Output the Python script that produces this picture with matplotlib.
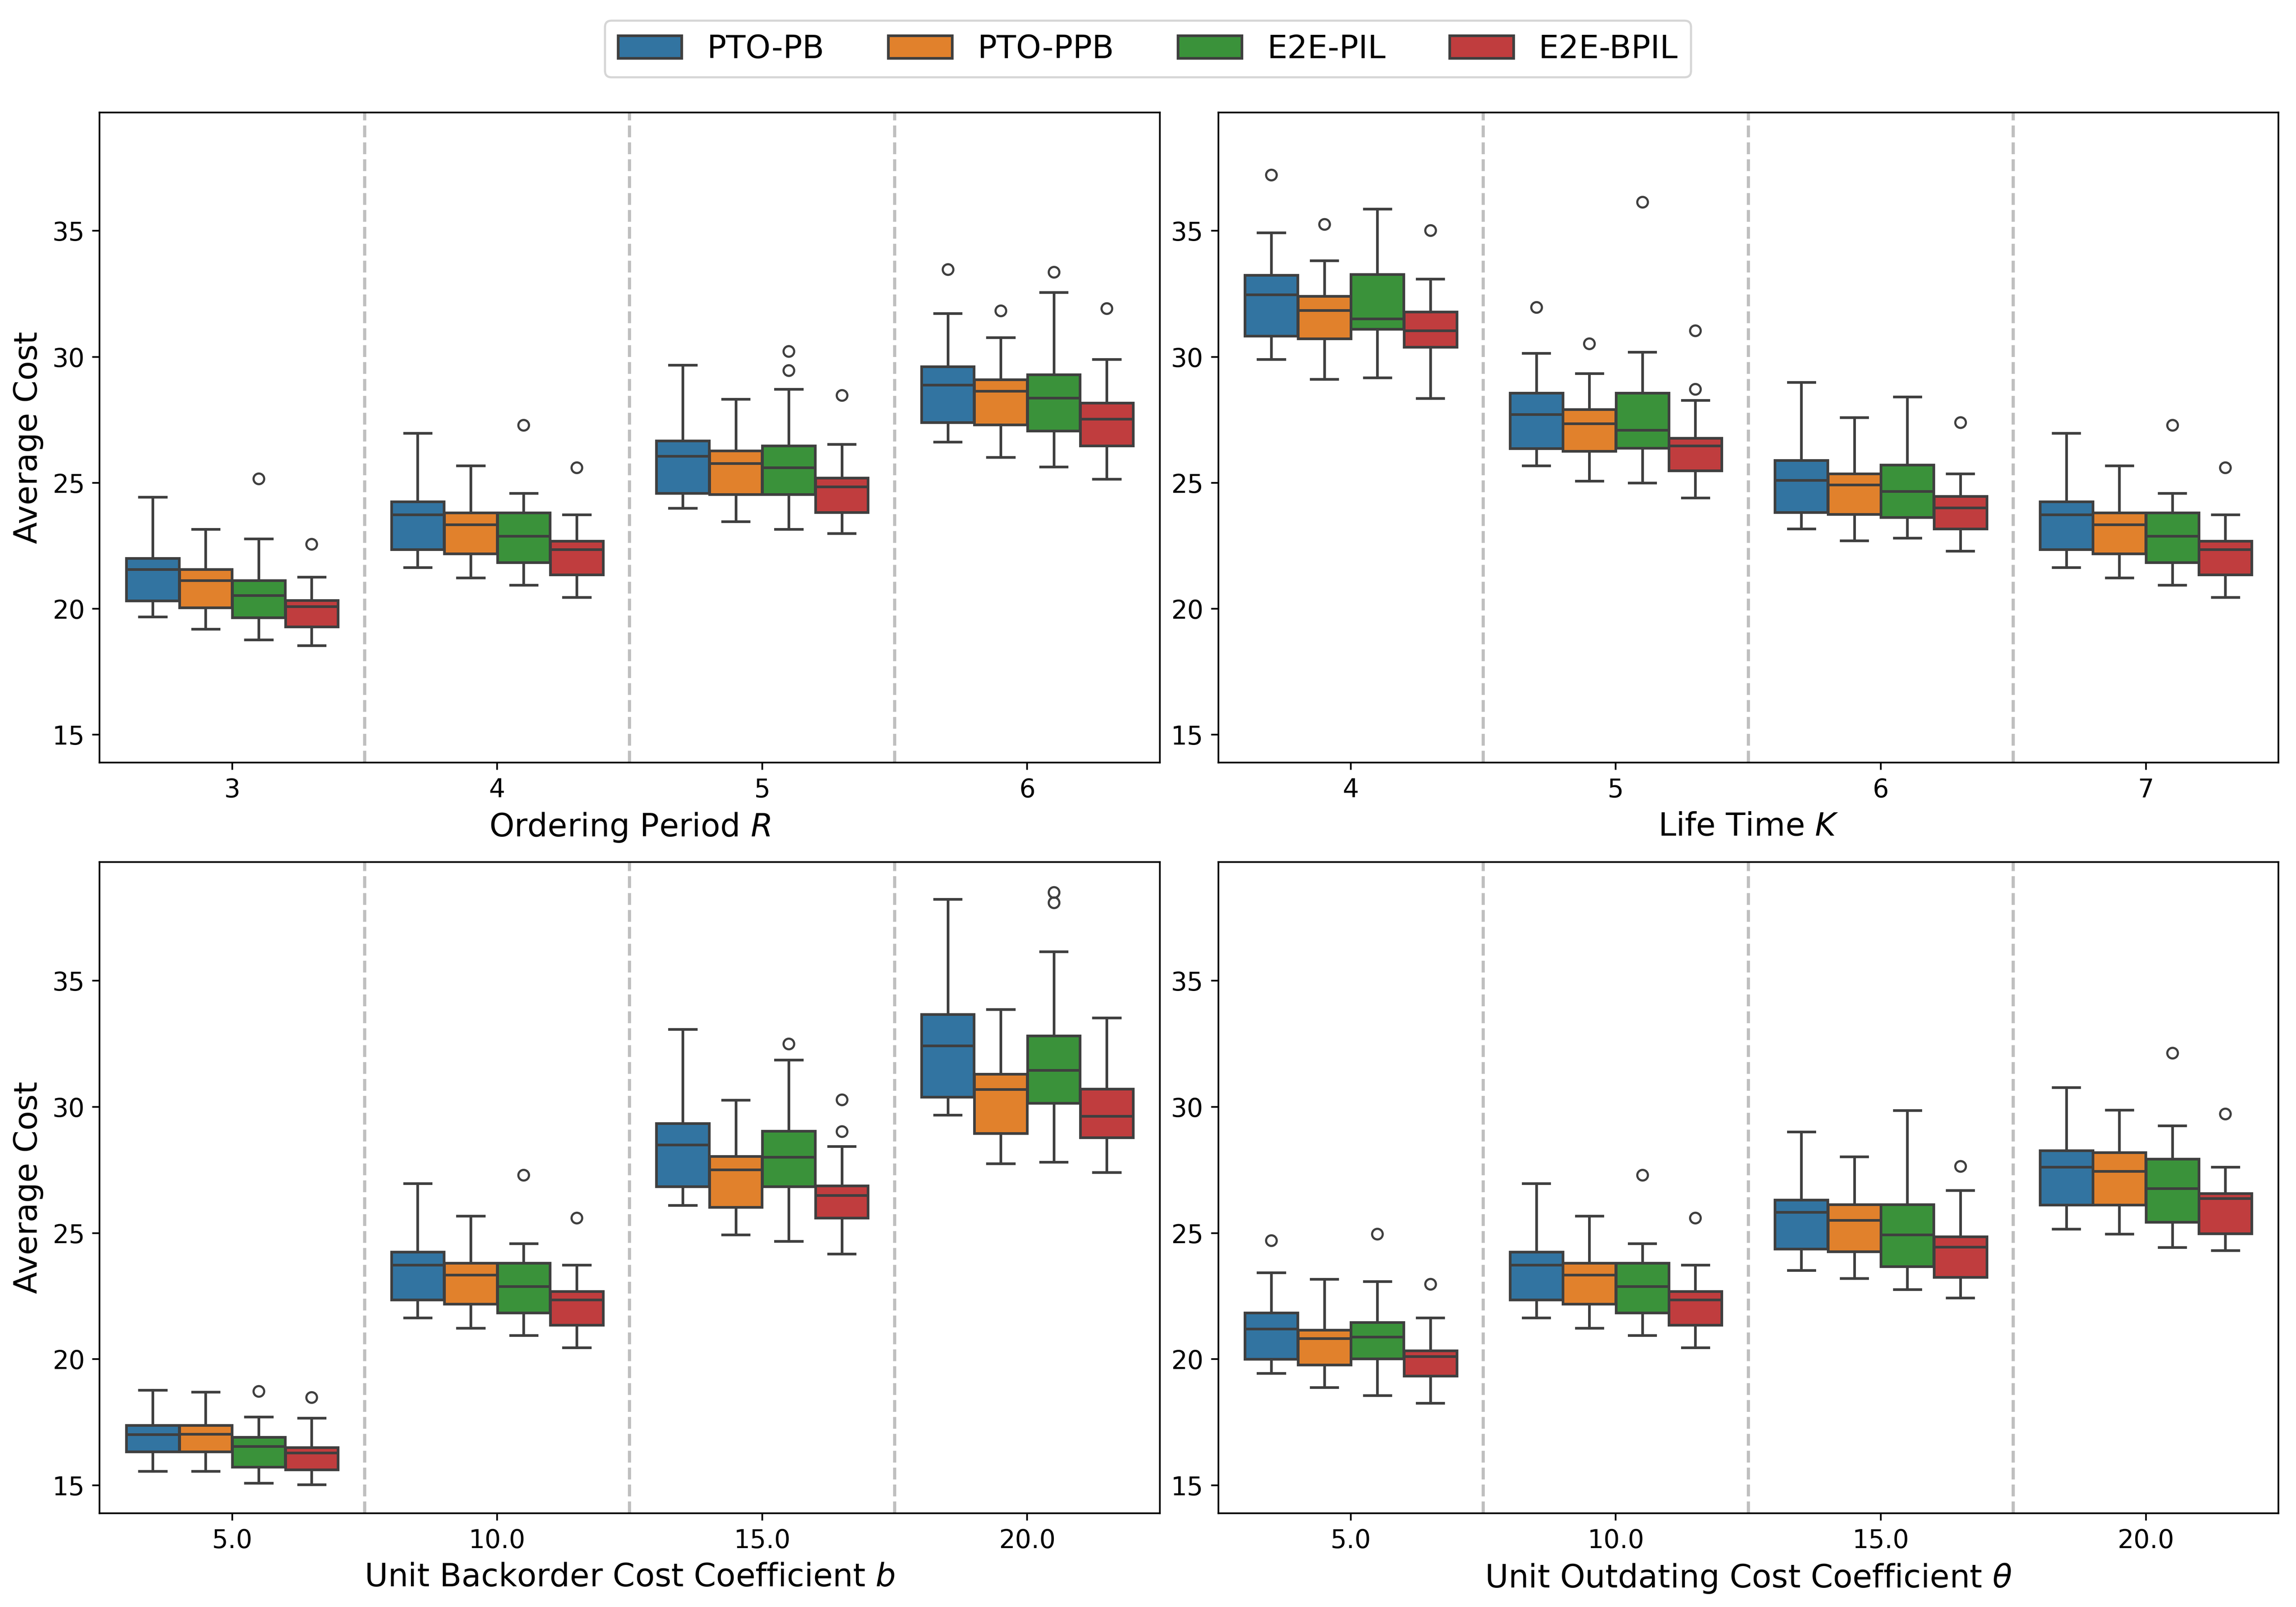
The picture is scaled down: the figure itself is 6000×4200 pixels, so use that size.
# box plots: average cost of 4 methods under 4 parameter sweeps

import matplotlib.pyplot as plt
from matplotlib.patches import Patch

methods = ['PTO-PB', 'PTO-PPB', 'E2E-PIL', 'E2E-BPIL']
colors = ['#3274a1', '#e1812c', '#3a923a', '#c03d3e']
line_color = '#3f3f3f'

# each box: (whislo, q1, med, q3, whishi), one per group (4 groups per panel)
# --- panel 1: ordering period R
r_groups = ['3', '4', '5', '6']
r_pto_pb = [(19.69, 20.32, 21.56, 22.01, 24.44), (21.65, 22.36, 23.74, 24.25, 26.97),
            (24.00, 24.59, 26.07, 26.67, 29.68), (26.62, 27.40, 28.89, 29.61, 31.72)]
r_pto_ppb = [(19.20, 20.05, 21.12, 21.56, 23.16), (21.24, 22.19, 23.35, 23.81, 25.68),
             (23.47, 24.54, 25.78, 26.28, 28.32), (26.02, 27.31, 28.64, 29.10, 30.77)]
r_e2e_pil = [(18.78, 19.66, 20.53, 21.12, 22.79), (20.94, 21.84, 22.89, 23.81, 24.59),
             (23.16, 24.54, 25.60, 26.48, 28.72), (25.63, 27.07, 28.37, 29.29, 32.57)]
r_e2e_bpil = [(18.54, 19.29, 20.10, 20.34, 21.26), (20.46, 21.36, 22.36, 22.69, 23.74),
              (22.99, 23.83, 24.85, 25.19, 26.53), (25.15, 26.48, 27.53, 28.18, 29.90)]
r_fliers = [[[], [], [25.17], [22.57]],
            [[], [], [27.30], [25.60]],
            [[], [], [30.22, 29.46], [28.47]],
            [[33.47], [31.84], [33.37], [31.92]]]

# --- panel 2: life time K
k_groups = ['4', '5', '6', '7']
k_pto_pb = [(29.90, 30.83, 32.47, 33.25, 34.93), (25.68, 26.36, 27.72, 28.57, 30.15),
            (23.18, 23.83, 25.10, 25.90, 29.00), (21.65, 22.36, 23.74, 24.25, 26.97)]
k_pto_ppb = [(29.12, 30.73, 31.85, 32.41, 33.83), (25.07, 26.26, 27.36, 27.91, 29.34),
             (22.70, 23.76, 24.93, 25.37, 27.60), (21.24, 22.19, 23.35, 23.81, 25.68)]
k_e2e_pil = [(29.17, 31.11, 31.51, 33.28, 35.87), (25.00, 26.38, 27.09, 28.57, 30.19),
             (22.81, 23.64, 24.66, 25.71, 28.42), (20.94, 21.84, 22.89, 23.81, 24.59)]
k_e2e_bpil = [(28.35, 30.39, 31.05, 31.79, 33.10), (24.40, 25.48, 26.48, 26.77, 28.28),
              (22.30, 23.18, 24.01, 24.47, 25.36), (20.46, 21.36, 22.36, 22.69, 23.74)]
k_fliers = [[[37.23], [35.27], [], [35.02]],
            [[31.97], [30.53], [36.14], [31.04, 28.72]],
            [[], [], [], [27.40]],
            [[], [], [27.30], [25.60]]]

# --- panel 3: unit backorder cost coefficient b
b_groups = ['5.0', '10.0', '15.0', '20.0']
b_pto_pb = [(15.56, 16.33, 17.02, 17.38, 18.78), (21.65, 22.36, 23.74, 24.25, 26.97),
            (26.11, 26.84, 28.50, 29.35, 33.08), (29.68, 30.39, 32.43, 33.67, 38.23)]
b_pto_ppb = [(15.56, 16.34, 17.04, 17.38, 18.71), (21.24, 22.19, 23.35, 23.81, 25.68),
             (24.93, 26.02, 27.52, 28.04, 30.27), (27.76, 28.96, 30.70, 31.31, 33.86)]
b_e2e_pil = [(15.10, 15.73, 16.55, 16.92, 17.72), (20.94, 21.84, 22.89, 23.81, 24.59),
             (24.68, 26.84, 28.01, 29.05, 31.87), (27.82, 30.15, 31.45, 32.82, 36.16)]
b_e2e_bpil = [(15.03, 15.63, 16.29, 16.50, 17.67), (20.46, 21.36, 22.36, 22.69, 23.74),
              (24.18, 25.60, 26.50, 26.87, 28.44), (27.40, 28.78, 29.64, 30.71, 33.54)]
b_fliers = [[[], [], [18.74], [18.49]],
            [[], [], [27.30], [25.60]],
            [[], [], [32.50], [30.29, 29.03]],
            [[], [], [38.50, 38.10], []]]

# --- panel 4: unit outdating cost coefficient theta
t_groups = ['5.0', '10.0', '15.0', '20.0']
t_pto_pb = [(19.44, 20.00, 21.21, 21.84, 23.44), (21.65, 22.36, 23.74, 24.25, 26.97),
            (23.52, 24.37, 25.83, 26.31, 29.01), (25.17, 26.12, 27.62, 28.27, 30.78)]
t_pto_ppb = [(18.88, 19.78, 20.82, 21.16, 23.18), (21.24, 22.19, 23.35, 23.81, 25.68),
             (23.20, 24.27, 25.51, 26.14, 28.03), (24.97, 26.12, 27.45, 28.20, 29.88)]
t_e2e_pil = [(18.57, 20.02, 20.88, 21.46, 23.08), (20.94, 21.84, 22.89, 23.81, 24.59),
             (22.76, 23.67, 24.93, 26.14, 29.86), (24.44, 25.43, 26.77, 27.93, 29.25)]
t_e2e_bpil = [(18.27, 19.34, 20.12, 20.34, 21.65), (20.46, 21.36, 22.36, 22.69, 23.74),
              (22.43, 23.25, 24.45, 24.86, 26.70), (24.32, 24.98, 26.38, 26.58, 27.62)]
t_fliers = [[[24.71], [], [24.97], [22.98]],
            [[], [], [27.30], [25.60]],
            [[], [], [], [27.65]],
            [[], [], [32.14], [29.73]]]

panels = [
    ('Ordering Period $R$', r_groups, [r_pto_pb, r_pto_ppb, r_e2e_pil, r_e2e_bpil], r_fliers),
    ('Life Time $K$', k_groups, [k_pto_pb, k_pto_ppb, k_e2e_pil, k_e2e_bpil], k_fliers),
    ('Unit Backorder Cost Coefficient $b$', b_groups, [b_pto_pb, b_pto_ppb, b_e2e_pil, b_e2e_bpil], b_fliers),
    ('Unit Outdating Cost Coefficient $\\theta$', t_groups, [t_pto_pb, t_pto_ppb, t_e2e_pil, t_e2e_bpil], t_fliers),
]

fig = plt.figure(figsize=(15, 10.5))
axes_pos = [[0.0434, 0.5255, 0.4617, 0.4045], [0.5306, 0.5255, 0.4617, 0.4045],
            [0.0434, 0.0584, 0.4617, 0.4051], [0.5306, 0.0584, 0.4617, 0.4051]]

box_w = 0.2
offsets = [-0.3, -0.1, 0.1, 0.3]

for p, (xlabel, groups, series, fliers) in enumerate(panels):
    ax = fig.add_axes(axes_pos[p])
    for m in range(len(methods)):
        stats = []
        for g in range(len(groups)):
            lo, q1, med, q3, hi = series[m][g]
            stats.append(dict(whislo=lo, q1=q1, med=med, q3=q3, whishi=hi,
                              fliers=fliers[g][m]))
        ax.bxp(stats, positions=[g + offsets[m] for g in range(len(groups))],
               widths=box_w * 0.995, patch_artist=True, manage_ticks=False,
               boxprops=dict(facecolor=colors[m], edgecolor=line_color, linewidth=1.25),
               medianprops=dict(color=line_color, linewidth=1.25),
               whiskerprops=dict(color=line_color, linewidth=1.25),
               capprops=dict(color=line_color, linewidth=1.25),
               capwidths=box_w * 0.5,
               flierprops=dict(marker='o', markerfacecolor='none',
                               markeredgecolor=line_color, markersize=5,
                               markeredgewidth=1.0))
    # separators between parameter groups
    for xv in [0.5, 1.5, 2.5]:
        ax.axvline(xv, color='gray', linestyle='--', linewidth=1.5, alpha=0.5, zorder=0)
    ax.set_xlim(-0.5, 3.5)
    ax.set_ylim(13.9, 39.7)
    ax.set_yticks([15, 20, 25, 30, 35])
    ax.set_xticks(range(len(groups)))
    ax.set_xticklabels(groups)
    ax.tick_params(labelsize=12)
    ax.set_xlabel(xlabel, fontsize=15)
    if p % 2 == 0:
        ax.set_ylabel('Average Cost', fontsize=15)

handles = [Patch(facecolor=c, edgecolor=line_color, linewidth=1.25) for c in colors]
fig.legend(handles, methods, loc='upper center', bbox_to_anchor=(0.5, 0.997),
           ncol=4, fontsize=15, columnspacing=2.0, handlelength=2.0,
           borderpad=0.4)

fig.savefig('out.png', dpi=400)
